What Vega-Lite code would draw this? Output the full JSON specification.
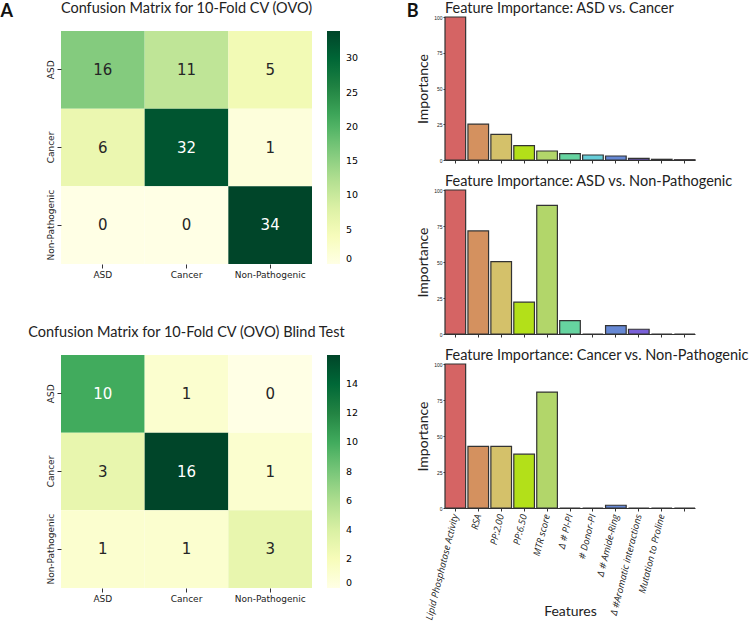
{
  "$schema": "https://vega.github.io/schema/vega-lite/v6.json",
  "padding": {"left": 0, "top": 0, "right": 0, "bottom": 0},
  "background": "white",
  "config": {"view": {"stroke": null}, "axis": {"labelColor": "#222", "tickColor": "#333", "domainColor": "#333", "titleColor": "#222"}},
  "datasets": {
    "cv": [
      {"actual": "ASD", "predicted": "ASD", "count": 16},
      {"actual": "ASD", "predicted": "Cancer", "count": 11},
      {"actual": "ASD", "predicted": "Non-Pathogenic", "count": 5},
      {"actual": "Cancer", "predicted": "ASD", "count": 6},
      {"actual": "Cancer", "predicted": "Cancer", "count": 32},
      {"actual": "Cancer", "predicted": "Non-Pathogenic", "count": 1},
      {"actual": "Non-Pathogenic", "predicted": "ASD", "count": 0},
      {"actual": "Non-Pathogenic", "predicted": "Cancer", "count": 0},
      {"actual": "Non-Pathogenic", "predicted": "Non-Pathogenic", "count": 34}
    ],
    "blind": [
      {"actual": "ASD", "predicted": "ASD", "count": 10},
      {"actual": "ASD", "predicted": "Cancer", "count": 1},
      {"actual": "ASD", "predicted": "Non-Pathogenic", "count": 0},
      {"actual": "Cancer", "predicted": "ASD", "count": 3},
      {"actual": "Cancer", "predicted": "Cancer", "count": 16},
      {"actual": "Cancer", "predicted": "Non-Pathogenic", "count": 1},
      {"actual": "Non-Pathogenic", "predicted": "ASD", "count": 1},
      {"actual": "Non-Pathogenic", "predicted": "Cancer", "count": 1},
      {"actual": "Non-Pathogenic", "predicted": "Non-Pathogenic", "count": 3}
    ],
    "asd_cancer": [
      {"feature": "Lipid Phosphatase Activity", "importance": 100},
      {"feature": "RSA", "importance": 25.1},
      {"feature": "PP:2.00", "importance": 17.9},
      {"feature": "PP:6.50", "importance": 10},
      {"feature": "MTR score", "importance": 6.3},
      {"feature": "Δ # PI-PI", "importance": 4.4},
      {"feature": "# Donor-PI", "importance": 3.5},
      {"feature": "Δ # Amide-Ring", "importance": 2.8},
      {"feature": "Δ #Aromatic interactions", "importance": 1.2},
      {"feature": "Mutation to Proline", "importance": 0.5},
      {"feature": " ", "importance": 0.2}
    ],
    "asd_np": [
      {"feature": "Lipid Phosphatase Activity", "importance": 100},
      {"feature": "RSA", "importance": 71.6},
      {"feature": "PP:2.00", "importance": 50.2},
      {"feature": "PP:6.50", "importance": 22.1},
      {"feature": "MTR score", "importance": 89.3},
      {"feature": "Δ # PI-PI", "importance": 9.3},
      {"feature": "# Donor-PI", "importance": 0},
      {"feature": "Δ # Amide-Ring", "importance": 5.8},
      {"feature": "Δ #Aromatic interactions", "importance": 3.3},
      {"feature": "Mutation to Proline", "importance": 0},
      {"feature": " ", "importance": 0}
    ],
    "cancer_np": [
      {"feature": "Lipid Phosphatase Activity", "importance": 100},
      {"feature": "RSA", "importance": 42.8},
      {"feature": "PP:2.00", "importance": 42.8},
      {"feature": "PP:6.50", "importance": 37.4},
      {"feature": "MTR score", "importance": 80.5},
      {"feature": "Δ # PI-PI", "importance": 0},
      {"feature": "# Donor-PI", "importance": 0},
      {"feature": "Δ # Amide-Ring", "importance": 1.9},
      {"feature": "Δ #Aromatic interactions", "importance": 0},
      {"feature": "Mutation to Proline", "importance": 0},
      {"feature": " ", "importance": 0}
    ]
  },
  "resolve": {"scale": {"color": "independent"}, "legend": {"color": "independent"}},
  "columns": 2,
  "align": "none",
  "spacing": 47,
  "concat": [
    {
      "title": {"text": "A", "anchor": "start", "font": "Lato", "fontSize": 18, "fontWeight": "bold", "color": "#111", "offset": -20, "dx": -27},
      "spacing": 45,
      "resolve": {"scale": {"color": "independent"}, "legend": {"color": "independent"}},
      "vconcat": [
        {
          "spacing": 13,
          "resolve": {"scale": {"color": "independent"}, "legend": {"color": "independent"}},
          "vconcat": [
            {
              "width": 251, "height": 1,
              "title": {"text": "Confusion Matrix for 10-Fold CV (OVO)", "font": "Lato", "fontSize": 14.5, "fontWeight": "normal", "frame": "group", "anchor": "middle", "offset": 1, "color": "#222"},
              "data": {"values": []},
              "mark": "rect",
              "encoding": {}
            },
            {
              "width": 251, "height": 233,
              "data": {"name": "cv"},
              "encoding": {
                "x": {"field": "predicted", "type": "nominal", "sort": ["ASD", "Cancer", "Non-Pathogenic"], "axis": {"title": null, "labelAngle": 0, "labelFont": "DejaVu Sans", "labelFontSize": 9, "domain": false, "tickSize": 4, "labelPadding": 2}},
                "y": {"field": "actual", "type": "nominal", "sort": ["ASD", "Cancer", "Non-Pathogenic"], "axis": {"title": null, "labelAngle": -90, "labelFont": "DejaVu Sans", "labelFontSize": 9, "domain": false, "tickSize": 4, "labelPadding": 2}}
              },
              "layer": [
                {"mark": {"type": "rect"}, "encoding": {"color": {"field": "count", "type": "quantitative", "scale": {"domain": [0, 4.25, 8.5, 12.75, 17, 21.25, 25.5, 29.75, 34], "range": ["#ffffe5", "#f7fcb9", "#d9f0a3", "#addd8e", "#78c679", "#41ab5d", "#238443", "#006837", "#004529"], "interpolate": "rgb"}, "legend": {"title": null, "gradientLength": 233, "gradientThickness": 13, "gradientStrokeWidth": 0, "labelFont": "DejaVu Sans", "labelFontSize": 9.5, "values": [0, 5, 10, 15, 20, 25, 30], "offset": 15, "labelOffset": 6, "padding": 0}}}},
                {"mark": {"type": "text", "font": "DejaVu Sans", "fontSize": 15}, "encoding": {"text": {"field": "count", "type": "quantitative"}, "color": {"condition": {"test": "datum.count > 20", "value": "white"}, "value": "#262626"}}}
              ]
            }
          ]
        },
        {
          "spacing": 13,
          "resolve": {"scale": {"color": "independent"}, "legend": {"color": "independent"}},
          "vconcat": [
            {
              "width": 251, "height": 1,
              "title": {"text": "Confusion Matrix for 10-Fold CV (OVO) Blind Test", "font": "Lato", "fontSize": 14.5, "fontWeight": "normal", "frame": "group", "anchor": "middle", "offset": 1, "color": "#222"},
              "data": {"values": []},
              "mark": "rect",
              "encoding": {}
            },
            {
              "width": 251, "height": 233,
              "data": {"name": "blind"},
              "encoding": {
                "x": {"field": "predicted", "type": "nominal", "sort": ["ASD", "Cancer", "Non-Pathogenic"], "axis": {"title": null, "labelAngle": 0, "labelFont": "DejaVu Sans", "labelFontSize": 9, "domain": false, "tickSize": 4, "labelPadding": 2}},
                "y": {"field": "actual", "type": "nominal", "sort": ["ASD", "Cancer", "Non-Pathogenic"], "axis": {"title": null, "labelAngle": -90, "labelFont": "DejaVu Sans", "labelFontSize": 9, "domain": false, "tickSize": 4, "labelPadding": 2}}
              },
              "layer": [
                {"mark": {"type": "rect"}, "encoding": {"color": {"field": "count", "type": "quantitative", "scale": {"domain": [0, 2, 4, 6, 8, 10, 12, 14, 16], "range": ["#ffffe5", "#f7fcb9", "#d9f0a3", "#addd8e", "#78c679", "#41ab5d", "#238443", "#006837", "#004529"], "interpolate": "rgb"}, "legend": {"title": null, "gradientLength": 233, "gradientThickness": 13, "gradientStrokeWidth": 0, "labelFont": "DejaVu Sans", "labelFontSize": 9.5, "values": [0, 2, 4, 6, 8, 10, 12, 14], "offset": 15, "labelOffset": 6, "padding": 0}}}},
                {"mark": {"type": "text", "font": "DejaVu Sans", "fontSize": 15}, "encoding": {"text": {"field": "count", "type": "quantitative"}, "color": {"condition": {"test": "datum.count > 9", "value": "white"}, "value": "#262626"}}}
              ]
            }
          ]
        }
      ]
    },
    {
      "title": {"text": "B", "anchor": "start", "font": "Lato", "fontSize": 18, "fontWeight": "bold", "color": "#111", "offset": -20, "dx": -10},
      "spacing": 9,
      "resolve": {"scale": {"color": "independent"}},
      "vconcat": [
        {
          "width": 250, "height": 143,
          "title": {"text": "Feature Importance: ASD vs. Cancer", "anchor": "start", "frame": "group", "font": "Lato", "fontSize": 14.5, "fontWeight": "normal", "offset": -1, "color": "#222"},
          "data": {"name": "asd_cancer"},
          "mark": {"type": "bar", "stroke": "#333", "strokeWidth": 1.2},
          "encoding": {
            "x": {"field": "feature", "type": "nominal", "sort": null, "scale": {"paddingInner": 0.1, "paddingOuter": 0}, "axis": {"labels": false, "title": null, "tickSize": 3}},
            "y": {"field": "importance", "type": "quantitative", "scale": {"domain": [0, 100]}, "axis": {"values": [0, 25, 50, 75, 100], "labelFontSize": 5, "tickSize": 2, "labelPadding": 1, "grid": false, "title": "Importance", "titleFont": "Lato", "titleFontSize": 14, "titleFontWeight": "normal", "titlePadding": 3}},
            "color": {"field": "feature", "type": "nominal", "sort": null, "scale": {"domain": ["Lipid Phosphatase Activity", "RSA", "PP:2.00", "PP:6.50", "MTR score", "Δ # PI-PI", "# Donor-PI", "Δ # Amide-Ring", "Δ #Aromatic interactions", "Mutation to Proline", " "], "range": ["#d56464", "#d4915f", "#d4c16a", "#b3e019", "#b2d66a", "#66d4a0", "#66cdd8", "#6688d4", "#7a60d8", "#a860d4", "#d460b0"]}, "legend": null}
          }
        },
        {
          "width": 250, "height": 144,
          "title": {"text": "Feature Importance: ASD vs. Non-Pathogenic", "anchor": "start", "frame": "group", "font": "Lato", "fontSize": 14.5, "fontWeight": "normal", "offset": -1, "color": "#222"},
          "data": {"name": "asd_np"},
          "mark": {"type": "bar", "stroke": "#333", "strokeWidth": 1.2},
          "encoding": {
            "x": {"field": "feature", "type": "nominal", "sort": null, "scale": {"paddingInner": 0.1, "paddingOuter": 0}, "axis": {"labels": false, "title": null, "tickSize": 3}},
            "y": {"field": "importance", "type": "quantitative", "scale": {"domain": [0, 100]}, "axis": {"values": [0, 25, 50, 75, 100], "labelFontSize": 5, "tickSize": 2, "labelPadding": 1, "grid": false, "title": "Importance", "titleFont": "Lato", "titleFontSize": 14, "titleFontWeight": "normal", "titlePadding": 3}},
            "color": {"field": "feature", "type": "nominal", "sort": null, "scale": {"domain": ["Lipid Phosphatase Activity", "RSA", "PP:2.00", "PP:6.50", "MTR score", "Δ # PI-PI", "# Donor-PI", "Δ # Amide-Ring", "Δ #Aromatic interactions", "Mutation to Proline", " "], "range": ["#d56464", "#d4915f", "#d4c16a", "#b3e019", "#b2d66a", "#66d4a0", "#66cdd8", "#6688d4", "#7a60d8", "#a860d4", "#d460b0"]}, "legend": null}
          }
        },
        {
          "width": 250, "height": 144,
          "title": {"text": "Feature Importance: Cancer vs. Non-Pathogenic", "anchor": "start", "frame": "group", "font": "Lato", "fontSize": 14.5, "fontWeight": "normal", "offset": -1, "color": "#222"},
          "data": {"name": "cancer_np"},
          "mark": {"type": "bar", "stroke": "#333", "strokeWidth": 1.2},
          "encoding": {
            "x": {"field": "feature", "type": "nominal", "sort": null, "scale": {"paddingInner": 0.1, "paddingOuter": 0}, "axis": {"labelAngle": -76, "labelFont": "Open Sans", "labelFontStyle": "italic", "labelFontSize": 9.5, "labelPadding": 3, "tickSize": 3, "title": "Features", "titleFont": "Lato", "titleFontSize": 14, "titleFontWeight": "normal", "titleY": 96, "titleBaseline": "top"}},
            "y": {"field": "importance", "type": "quantitative", "scale": {"domain": [0, 100]}, "axis": {"values": [0, 25, 50, 75, 100], "labelFontSize": 5, "tickSize": 2, "labelPadding": 1, "grid": false, "title": "Importance", "titleFont": "Lato", "titleFontSize": 14, "titleFontWeight": "normal", "titlePadding": 3}},
            "color": {"field": "feature", "type": "nominal", "sort": null, "scale": {"domain": ["Lipid Phosphatase Activity", "RSA", "PP:2.00", "PP:6.50", "MTR score", "Δ # PI-PI", "# Donor-PI", "Δ # Amide-Ring", "Δ #Aromatic interactions", "Mutation to Proline", " "], "range": ["#d56464", "#d4915f", "#d4c16a", "#b3e019", "#b2d66a", "#66d4a0", "#66cdd8", "#6688d4", "#7a60d8", "#a860d4", "#d460b0"]}, "legend": null}
          }
        }
      ]
    }
  ]
}
